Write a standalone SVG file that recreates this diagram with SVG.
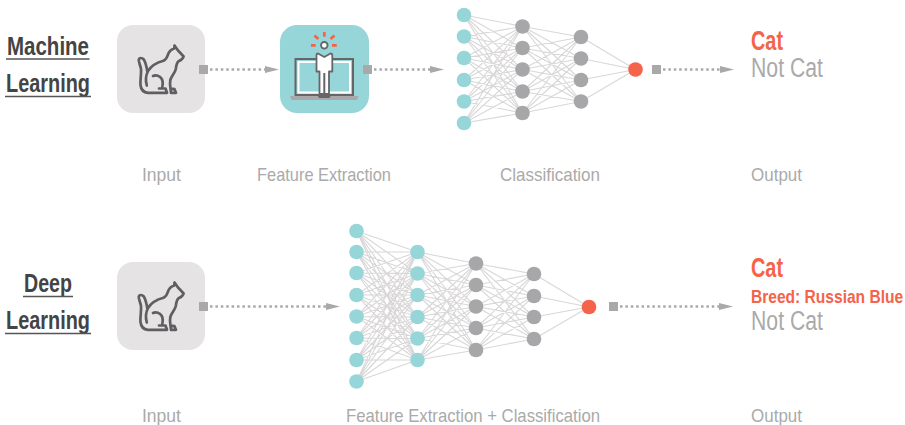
<svg xmlns="http://www.w3.org/2000/svg" width="905" height="425" viewBox="0 0 905 425">
<style>
text{font-family:"Liberation Sans",Arial,sans-serif}
.title{font-size:26px;font-weight:bold;fill:#444}
.ul{stroke:#555;stroke-width:1.3;fill:none}
.lab{font-size:19px;fill:#aaa}
.res{font-size:27px;fill:#aaa}
.cat{font-size:27px;font-weight:bold;fill:#f4634a}
.breed{font-size:18px;font-weight:bold;fill:#f4634a}
.box{fill:#e5e3e4}
.t{fill:#97d6d8}.g{fill:#a7a7a9}.r{fill:#f4634a}
.net{stroke:#d9d7d7;stroke-width:1.1;fill:none}
.dots{stroke:#a9a9a9;stroke-width:2.5;stroke-dasharray:2.5 2.9;fill:none}
.sq,.hd{fill:#a9a9a9}
.ic{fill:none;stroke:#5f5f61;stroke-width:2.7;stroke-linejoin:round;stroke-linecap:round}
</style>
<defs>
<g id="catIcon">
<path class="ic" d="M174.500 45.500L174.300 48.500C170.500 49.500 168.800 52 167.800 55C167 58 166 59.500 163.500 60.800C157 62.500 151.500 65.500 148 71C146 75 145.500 81 146.800 85.500M147.500 72.500C146.800 68 146 63 143.800 59.500C142 57.500 139.500 57.500 138.800 59.500C138.300 61.500 140.300 65 141 69C141.500 74 140 80 140.500 85C141 90 144 92.500 148 92.800L167 92.800L165.500 88.500L159 88.500M153 76C156 74.500 160 76 161.800 79C163.500 82 162.800 85 162 88.500M174.500 45.500L178 50.500C180 52.500 181.800 54.500 183.600 56.500C183 59 180.500 60.500 178.500 61.200C176.500 63 176.200 66 175.800 69C175 73 171.500 76 170.300 80C169.800 83 170 86 170.500 88.500L174.500 89.200L176 92.800L171 92.800L170.500 88.500"/>
</g>
<path id="head" d="M0-3.600L14 0 0 3.600z"/>
</defs>

<g id="input-ml">
<rect class="box" x="117" y="25" width="88" height="88" rx="16"/>
<use href="#catIcon"/>
<text class="lab" x="142" y="180.500" textLength="39" lengthAdjust="spacingAndGlyphs">Input</text>
</g>

<g id="feature-extraction">
<rect class="t" x="280" y="25" width="89" height="88" rx="17"/>
<rect x="295.500" y="59" width="57.500" height="36" fill="none" stroke="#666668" stroke-width="2"/>
<rect x="298.500" y="62" width="51.500" height="30.500" fill="none" stroke="#fff" stroke-width="2"/>
<path d="M290 96H358.500L357 100H291.500z" fill="#a9a9a9"/>
<path d="M317.500 95H331L329.500 98H319z" fill="#666668"/>
<path d="M318 53.500L324.300 57 330.500 53.500C331.800 53.500 332.300 54.500 332.300 55.500V71.500H329V94H319.500V71.500H316.500V55.500C316.500 54.500 317 53.500 318 53.500z" fill="#fff" stroke="#666668" stroke-width="1.800" stroke-linejoin="round"/>
<path d="M324.300 73V94" stroke="#666668" stroke-width="2" fill="none"/>
<circle cx="324.300" cy="45.300" r="3.300" fill="#fff" stroke="#666668" stroke-width="1.800"/>
<path d="M324.300 32V36.700M311 45.300H315.700M332 45.300H336.700M314.500 35.500L318.300 39M334.500 35.500L330.500 39" stroke="#f4634a" stroke-width="2.700" fill="none"/>
<text class="lab" x="257" y="180.500" textLength="134" lengthAdjust="spacingAndGlyphs">Feature Extraction</text>
</g>

<g id="input-dl">
<rect class="box" x="117" y="262" width="88" height="88" rx="16"/>
<use href="#catIcon" y="237"/>
<text class="lab" x="142" y="421.500" textLength="39" lengthAdjust="spacingAndGlyphs">Input</text>
</g>

<g id="connectors">
<path id="network-lines-ml" class="net" d="M522.500 26.500L464 15 522.500 48M522.500 69.500L464 15 522.500 91.500M522.500 113L464 15
M522.500 26.500L464 36.500 522.500 48M522.500 69.500L464 36.500 522.500 91.500M522.500 113L464 36.500
M522.500 26.500L464 58 522.500 48M522.500 69.500L464 58 522.500 91.500M522.500 113L464 58
M522.500 26.500L464 80 522.500 48M522.500 69.500L464 80 522.500 91.500M522.500 113L464 80
M522.500 26.500L464 101.500 522.500 48M522.500 69.500L464 101.500 522.500 91.500M522.500 113L464 101.500
M522.500 26.500L464 123 522.500 48M522.500 69.500L464 123 522.500 91.500M522.500 113L464 123
M581 37L522.500 26.500 581 58.500M581 80L522.500 26.500 581 101.500
M581 37L522.500 48 581 58.500M581 80L522.500 48 581 101.500
M581 37L522.500 69.500 581 58.500M581 80L522.500 69.500 581 101.500
M581 37L522.500 91.500 581 58.500M581 80L522.500 91.500 581 101.500
M581 37L522.500 113 581 58.500M581 80L522.500 113 581 101.500
M581 37L635.500 69.500 581 58.500M581 80L635.500 69.500 581 101.500"/>
<path id="network-lines-dl" class="net" d="M417.500 252L356.500 231 417.500 273.500M417.500 295L356.500 231 417.500 317M417.500 338.500L356.500 231 417.500 360
M417.500 252L356.500 252 417.500 273.500M417.500 295L356.500 252 417.500 317M417.500 338.500L356.500 252 417.500 360
M417.500 252L356.500 273 417.500 273.500M417.500 295L356.500 273 417.500 317M417.500 338.500L356.500 273 417.500 360
M417.500 252L356.500 295 417.500 273.500M417.500 295L356.500 295 417.500 317M417.500 338.500L356.500 295 417.500 360
M417.500 252L356.500 316.500 417.500 273.500M417.500 295L356.500 316.500 417.500 317M417.500 338.500L356.500 316.500 417.500 360
M417.500 252L356.500 338 417.500 273.500M417.500 295L356.500 338 417.500 317M417.500 338.500L356.500 338 417.500 360
M417.500 252L356.500 360 417.500 273.500M417.500 295L356.500 360 417.500 317M417.500 338.500L356.500 360 417.500 360
M417.500 252L356.500 381.500 417.500 273.500M417.500 295L356.500 381.500 417.500 317M417.500 338.500L356.500 381.500 417.500 360
M476 263.500L417.500 252 476 285M476 306.500L417.500 252 476 328M476 350L417.500 252
M476 263.500L417.500 273.500 476 285M476 306.500L417.500 273.500 476 328M476 350L417.500 273.500
M476 263.500L417.500 295 476 285M476 306.500L417.500 295 476 328M476 350L417.500 295
M476 263.500L417.500 317 476 285M476 306.500L417.500 317 476 328M476 350L417.500 317
M476 263.500L417.500 338.500 476 285M476 306.500L417.500 338.500 476 328M476 350L417.500 338.500
M476 263.500L417.500 360 476 285M476 306.500L417.500 360 476 328M476 350L417.500 360
M534 274L476 263.500 534 296M534 317L476 263.500 534 339
M534 274L476 285 534 296M534 317L476 285 534 339
M534 274L476 306.500 534 296M534 317L476 306.500 534 339
M534 274L476 328 534 296M534 317L476 328 534 339
M534 274L476 350 534 296M534 317L476 350 534 339
M534 274L589 307 534 296M534 317L589 307 534 339"/>
<g id="arrow-ml-1"><rect class="sq" x="199" y="65" width="9" height="9"/><path class="dots" d="M210 69.500H265"/><use href="#head" class="hd" x="265" y="69.500"/></g>
<g id="arrow-ml-2"><rect class="sq" x="363" y="65" width="9" height="9"/><path class="dots" d="M374 69.500H430"/><use href="#head" class="hd" x="430" y="69.500"/></g>
<g id="arrow-ml-3"><rect class="sq" x="652" y="65" width="9" height="9"/><path class="dots" d="M663 69.500H720"/><use href="#head" class="hd" x="720" y="69.500"/></g>
<g id="arrow-dl-1"><rect class="sq" x="199" y="302" width="9" height="9"/><path class="dots" d="M210 306.500H326"/><use href="#head" class="hd" x="326" y="306.500"/></g>
<g id="arrow-dl-2"><rect class="sq" x="609" y="302" width="9" height="9"/><path class="dots" d="M620 306.500H719"/><use href="#head" class="hd" x="719" y="306.500"/></g>
</g>

<g id="title-ml">
<text class="title" x="7" y="55" textLength="82" lengthAdjust="spacingAndGlyphs">Machine</text>
<path class="ul" d="M6 59H89.500"/>
<text class="title" x="6" y="92" textLength="84" lengthAdjust="spacingAndGlyphs">Learning</text>
<path class="ul" d="M5 96.500H91"/>
</g>
<g id="title-dl">
<text class="title" x="24" y="292" textLength="48" lengthAdjust="spacingAndGlyphs">Deep</text>
<path class="ul" d="M23 296.500H73"/>
<text class="title" x="6" y="329" textLength="84" lengthAdjust="spacingAndGlyphs">Learning</text>
<path class="ul" d="M5 333.500H91"/>
</g>

<g id="classification">
<circle class="t" cx="464" cy="15" r="7.300"/><circle class="t" cx="464" cy="36.500" r="7.300"/><circle class="t" cx="464" cy="58" r="7.300"/><circle class="t" cx="464" cy="80" r="7.300"/><circle class="t" cx="464" cy="101.500" r="7.300"/><circle class="t" cx="464" cy="123" r="7.300"/>
<circle class="g" cx="522.500" cy="26.500" r="7.300"/><circle class="g" cx="522.500" cy="48" r="7.300"/><circle class="g" cx="522.500" cy="69.500" r="7.300"/><circle class="g" cx="522.500" cy="91.500" r="7.300"/><circle class="g" cx="522.500" cy="113" r="7.300"/>
<circle class="g" cx="581" cy="37" r="7.300"/><circle class="g" cx="581" cy="58.500" r="7.300"/><circle class="g" cx="581" cy="80" r="7.300"/><circle class="g" cx="581" cy="101.500" r="7.300"/>
<circle class="r" cx="635.500" cy="69.500" r="7.300"/>
<text class="lab" x="500" y="180.500" textLength="100" lengthAdjust="spacingAndGlyphs">Classification</text>
</g>

<g id="output-ml">
<text class="cat" x="751" y="49.500" textLength="32" lengthAdjust="spacingAndGlyphs">Cat</text>
<text class="res" x="751" y="77" textLength="72" lengthAdjust="spacingAndGlyphs">Not Cat</text>
<text class="lab" x="751" y="180.500" textLength="51" lengthAdjust="spacingAndGlyphs">Output</text>
</g>

<g id="feature-extraction-classification">
<circle class="t" cx="356.500" cy="231" r="7.300"/><circle class="t" cx="356.500" cy="252" r="7.300"/><circle class="t" cx="356.500" cy="273" r="7.300"/><circle class="t" cx="356.500" cy="295" r="7.300"/><circle class="t" cx="356.500" cy="316.500" r="7.300"/><circle class="t" cx="356.500" cy="338" r="7.300"/><circle class="t" cx="356.500" cy="360" r="7.300"/><circle class="t" cx="356.500" cy="381.500" r="7.300"/>
<circle class="t" cx="417.500" cy="252" r="7.300"/><circle class="t" cx="417.500" cy="273.500" r="7.300"/><circle class="t" cx="417.500" cy="295" r="7.300"/><circle class="t" cx="417.500" cy="317" r="7.300"/><circle class="t" cx="417.500" cy="338.500" r="7.300"/><circle class="t" cx="417.500" cy="360" r="7.300"/>
<circle class="g" cx="476" cy="263.500" r="7.300"/><circle class="g" cx="476" cy="285" r="7.300"/><circle class="g" cx="476" cy="306.500" r="7.300"/><circle class="g" cx="476" cy="328" r="7.300"/><circle class="g" cx="476" cy="350" r="7.300"/>
<circle class="g" cx="534" cy="274" r="7.300"/><circle class="g" cx="534" cy="296" r="7.300"/><circle class="g" cx="534" cy="317" r="7.300"/><circle class="g" cx="534" cy="339" r="7.300"/>
<circle class="r" cx="589" cy="307" r="7.300"/>
<text class="lab" x="346" y="421.500" textLength="254" lengthAdjust="spacingAndGlyphs">Feature Extraction + Classification</text>
</g>

<g id="output-dl">
<text class="cat" x="751" y="276.500" textLength="32" lengthAdjust="spacingAndGlyphs">Cat</text>
<text class="breed" transform="translate(751 302.500) scale(.865 1)" x="0" y="0">Breed: Russian Blue</text>
<text class="res" x="751" y="330" textLength="72" lengthAdjust="spacingAndGlyphs">Not Cat</text>
<text class="lab" x="751" y="421.500" textLength="51" lengthAdjust="spacingAndGlyphs">Output</text>
</g>
</svg>
